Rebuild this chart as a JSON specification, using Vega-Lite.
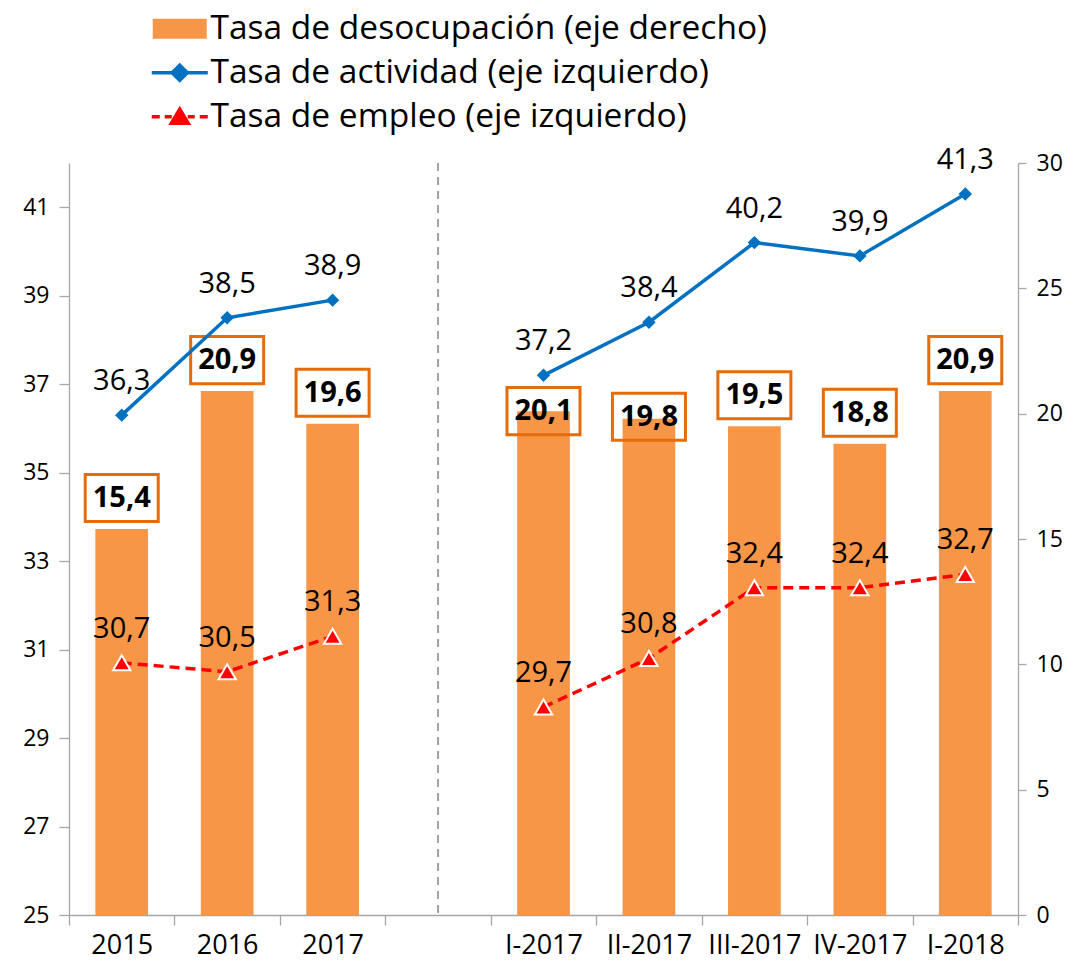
{
  "$schema": "https://vega.github.io/schema/vega-lite/v6.json",
  "width": 949,
  "height": 752,
  "autosize": {"type": "none"},
  "padding": {"left": 69, "top": 163, "right": 59, "bottom": 58},
  "background": "white",
  "config": {
    "font": "Open Sans",
    "view": {"stroke": null},
    "locale": {"number": {"decimal": ",", "thousands": ".", "grouping": [3], "currency": ["", " €"]}},
    "axis": {"domainColor": "#A6A6A6", "tickColor": "#A6A6A6", "labelColor": "black", "grid": false, "title": null, "labelFont": "Open Sans", "domainWidth": 1.3, "tickWidth": 1.3}
  },
  "data": {
    "values": [
      {"cat": "2015", "periodo": "anual", "desocupacion": 15.4, "actividad": 36.3, "empleo": 30.7},
      {"cat": "2016", "periodo": "anual", "desocupacion": 20.9, "actividad": 38.5, "empleo": 30.5},
      {"cat": "2017", "periodo": "anual", "desocupacion": 19.6, "actividad": 38.9, "empleo": 31.3},
      {"cat": "I-2017", "periodo": "trimestral", "desocupacion": 20.1, "actividad": 37.2, "empleo": 29.7},
      {"cat": "II-2017", "periodo": "trimestral", "desocupacion": 19.8, "actividad": 38.4, "empleo": 30.8},
      {"cat": "III-2017", "periodo": "trimestral", "desocupacion": 19.5, "actividad": 40.2, "empleo": 32.4},
      {"cat": "IV-2017", "periodo": "trimestral", "desocupacion": 18.8, "actividad": 39.9, "empleo": 32.4},
      {"cat": "I-2018", "periodo": "trimestral", "desocupacion": 20.9, "actividad": 41.3, "empleo": 32.7}
    ]
  },
  "encoding": {
    "x": {
      "field": "cat",
      "type": "nominal",
      "sort": ["2015", "2016", "2017", " ", "I-2017", "II-2017", "III-2017", "IV-2017", "I-2018"],
      "scale": {"domain": ["2015", "2016", "2017", " ", "I-2017", "II-2017", "III-2017", "IV-2017", "I-2018"], "paddingInner": 0, "paddingOuter": 0},
      "axis": {"orient": "bottom", "labelAngle": 0, "labelFontSize": 27, "tickBand": "extent", "tickSize": 10, "labelPadding": 7}
    }
  },
  "layer": [
    {
      "encoding": {
        "y": {
          "field": "desocupacion",
          "type": "quantitative",
          "scale": {"domain": [0, 30], "nice": false, "zero": true},
          "axis": {"orient": "right", "values": [0, 5, 10, 15, 20, 25, 30], "labelFontSize": 23, "tickSize": 8, "labelPadding": 10}
        }
      },
      "layer": [
        {
          "mark": {"type": "bar", "width": {"band": 0.5}},
          "encoding": {
            "color": {
              "datum": "Tasa de desocupación (eje derecho)",
              "type": "nominal",
              "scale": {
                "domain": ["Tasa de desocupación (eje derecho)", "Tasa de actividad (eje izquierdo)", "Tasa de empleo (eje izquierdo)"],
                "range": ["#F79646", "#0070C0", "#FF0000"]
              },
              "legend": {
                "orient": "none",
                "legendX": 94,
                "legendY": -151,
                "direction": "vertical",
                "title": null,
                "labelFontSize": 33.5,
                "labelFont": "Open Sans",
                "labelColor": "black",
                "labelLimit": 900,
                "symbolSize": 1600,
                "labelOffset": 14,
                "rowPadding": 9,
                "encode": {
                  "symbols": {
                    "update": {
                      "shape": {"signal": "datum.index === 0 ? 'M-1.35,-0.5L1.35,-0.5L1.35,0.5L-1.35,0.5Z' : datum.index === 1 ? 'M-1.4,0L1.4,0M0,-0.38L0.38,0L0,0.38L-0.38,0Z' : 'M-1.4,0L-1.0,0M-0.75,0L-0.4,0M0.4,0L0.75,0M1.0,0L1.4,0M0,-0.38L0.42,0.33L-0.42,0.33Z'"},
                      "fill": {"signal": "datum.index === 0 ? '#F79646' : datum.index === 1 ? '#0070C0' : '#FF0000'"},
                      "stroke": {"signal": "datum.index === 0 ? '#F79646' : datum.index === 1 ? '#0070C0' : '#FF0000'"},
                      "strokeWidth": {"signal": "datum.index === 0 ? 0 : 3.5"},
                      "opacity": {"value": 1},
                      "fillOpacity": {"value": 1},
                      "strokeOpacity": {"value": 1}
                    }
                  }
                }
              }
            }
          }
        },
        {
          "mark": {
            "type": "point",
            "shape": "M-1,-0.645L1,-0.645L1,0.645L-1,0.645Z",
            "size": 5329,
            "filled": false,
            "stroke": "#E46C0A",
            "strokeWidth": 3,
            "opacity": 1,
            "yOffset": {"expr": "datum.cat == 'I-2017' ? 0 : datum.cat == 'II-2017' ? -2 : -31"}
          }
        },
        {
          "mark": {
            "type": "text",
            "fontSize": 29,
            "fontWeight": "bold",
            "color": "black",
            "baseline": "middle",
            "yOffset": {"expr": "datum.cat == 'I-2017' ? 0 : datum.cat == 'II-2017' ? -2 : -31"}
          },
          "encoding": {"text": {"field": "desocupacion", "type": "quantitative", "format": ".1f"}}
        }
      ]
    },
    {
      "data": {"values": [{"cat": " "}]},
      "mark": {"type": "rule", "color": "#A0A0A0", "strokeDash": [8, 6], "strokeWidth": 2},
      "encoding": {}
    },
    {
      "layer": [
        {
          "mark": {"type": "line", "strokeWidth": 3.5},
          "encoding": {
            "y": {"field": "actividad", "type": "quantitative", "scale": {"domain": [25, 42], "nice": false, "zero": false}, "axis": {"orient": "left", "values": [25, 27, 29, 31, 33, 35, 37, 39, 41], "labelFontSize": 23, "tickSize": 10, "labelPadding": 10}},
            "detail": {"field": "periodo", "type": "nominal"},
            "color": {"datum": "Tasa de actividad (eje izquierdo)", "type": "nominal"}
          }
        },
        {
          "mark": {"type": "point", "shape": "diamond", "size": 180, "filled": true, "color": "#0070C0", "opacity": 1},
          "encoding": {
            "y": {"field": "actividad", "type": "quantitative", "scale": {"domain": [25, 42], "nice": false, "zero": false}, "axis": {"orient": "left", "values": [25, 27, 29, 31, 33, 35, 37, 39, 41], "labelFontSize": 23, "tickSize": 10, "labelPadding": 10}}
          }
        },
        {
          "mark": {"type": "text", "fontSize": 29, "color": "black", "baseline": "middle", "dy": -34},
          "encoding": {
            "y": {"field": "actividad", "type": "quantitative", "scale": {"domain": [25, 42], "nice": false, "zero": false}, "axis": {"orient": "left", "values": [25, 27, 29, 31, 33, 35, 37, 39, 41], "labelFontSize": 23, "tickSize": 10, "labelPadding": 10}},
            "text": {"field": "actividad", "type": "quantitative", "format": ".1f"}
          }
        },
        {
          "mark": {"type": "line", "strokeWidth": 3.5, "strokeDash": [10, 6]},
          "encoding": {
            "y": {"field": "empleo", "type": "quantitative", "scale": {"domain": [25, 42], "nice": false, "zero": false}, "axis": {"orient": "left", "values": [25, 27, 29, 31, 33, 35, 37, 39, 41], "labelFontSize": 23, "tickSize": 10, "labelPadding": 10}},
            "detail": {"field": "periodo", "type": "nominal"},
            "color": {"datum": "Tasa de empleo (eje izquierdo)", "type": "nominal"}
          }
        },
        {
          "mark": {"type": "point", "shape": "triangle-up", "size": 300, "filled": true, "fill": "#FF0000", "stroke": "white", "strokeWidth": 2, "opacity": 1},
          "encoding": {
            "y": {"field": "empleo", "type": "quantitative", "scale": {"domain": [25, 42], "nice": false, "zero": false}, "axis": {"orient": "left", "values": [25, 27, 29, 31, 33, 35, 37, 39, 41], "labelFontSize": 23, "tickSize": 10, "labelPadding": 10}}
          }
        },
        {
          "mark": {"type": "text", "fontSize": 29, "color": "black", "baseline": "middle", "dy": -34},
          "encoding": {
            "y": {"field": "empleo", "type": "quantitative", "scale": {"domain": [25, 42], "nice": false, "zero": false}, "axis": {"orient": "left", "values": [25, 27, 29, 31, 33, 35, 37, 39, 41], "labelFontSize": 23, "tickSize": 10, "labelPadding": 10}},
            "text": {"field": "empleo", "type": "quantitative", "format": ".1f"}
          }
        }
      ]
    }
  ],
  "resolve": {"scale": {"y": "independent"}}
}
